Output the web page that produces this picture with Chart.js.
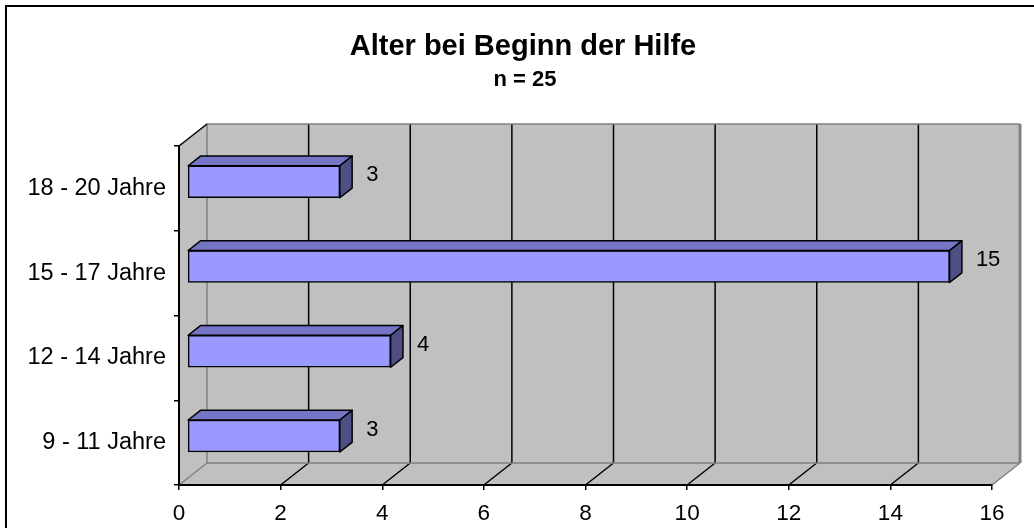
<!DOCTYPE html>
<html>
<head>
<meta charset="utf-8">
<script src="https://cdn.jsdelivr.net/npm/chart.js@4/dist/chart.umd.min.js"></script>
<style>
  html, body { margin: 0; padding: 0; background: #fff; }
  canvas { display: block; }
</style>
</head>
<body>
<canvas id="c" width="1034" height="528"></canvas>
<script>
// ---- data ----
const categories = ['18 - 20 Jahre', '15 - 17 Jahre', '12 - 14 Jahre', '9 - 11 Jahre'];
const values = [3, 15, 4, 3];
const xMin = 0, xMax = 16, xStep = 2;
const titleText = 'Alter bei Beginn der Hilfe';
const subtitleText = 'n = 25';

// ---- styling ----
const FONT = "'Liberation Sans', Arial, Helvetica, sans-serif";
const WX = 28, WY = -22;        // wall depth
const FX = 8.4, FY = -6.6;      // bar front face offset into depth
const DX = 12.3, DY = -9.7;     // bar depth
const WALL = '#c0c0c0', WALL_EDGE = '#808080';
const FRONT = '#9999ff', TOP = '#7575c6', SIDE = '#4f4f85';

const threeD = {
  id: 'threeD',
  beforeDraw(chart) {
    const { ctx, chartArea: a, scales: { x } } = chart;
    ctx.save();
    ctx.fillStyle = '#fff';
    ctx.fillRect(0, 0, chart.width, chart.height);
    // outer frame
    ctx.strokeStyle = '#000';
    ctx.lineWidth = 2;
    ctx.strokeRect(6, 6, chart.width + 100, chart.height + 100);

    const L = a.left, R = a.right, T = a.top, B = a.bottom;
    // back wall
    ctx.fillStyle = WALL;
    ctx.fillRect(L + WX, T + WY, R - L, B - T);
    // left wall
    ctx.beginPath();
    ctx.moveTo(L, T); ctx.lineTo(L + WX, T + WY); ctx.lineTo(L + WX, B + WY); ctx.lineTo(L, B);
    ctx.closePath(); ctx.fill();
    // floor
    ctx.beginPath();
    ctx.moveTo(L, B); ctx.lineTo(R, B); ctx.lineTo(R + WX, B + WY); ctx.lineTo(L + WX, B + WY);
    ctx.closePath(); ctx.fill();

    // gridlines on back wall and floor
    ctx.strokeStyle = '#000';
    ctx.lineWidth = 1.5;
    for (let v = xMin + xStep; v < xMax; v += xStep) {
      const px = x.getPixelForValue(v);
      ctx.beginPath();
      ctx.moveTo(px + WX, T + WY); ctx.lineTo(px + WX, B + WY); ctx.lineTo(px, B);
      ctx.stroke();
    }
    // wall edges
    ctx.strokeStyle = WALL_EDGE;
    ctx.lineWidth = 1.5;
    ctx.beginPath();
    ctx.moveTo(L + WX, B + WY); ctx.lineTo(L + WX, T + WY); ctx.lineTo(R + WX, T + WY);
    ctx.moveTo(L + WX, B + WY); ctx.lineTo(R + WX, B + WY);
    ctx.moveTo(L + WX, B + WY); ctx.lineTo(L, B);
    ctx.moveTo(R, B); ctx.lineTo(R + WX, B + WY);
    ctx.stroke();
    ctx.lineWidth = 3;
    ctx.beginPath();
    ctx.moveTo(R + WX, T + WY); ctx.lineTo(R + WX, B + WY);
    ctx.stroke();
    // left wall top edge
    ctx.strokeStyle = '#000';
    ctx.lineWidth = 1.5;
    ctx.beginPath();
    ctx.moveTo(L, T); ctx.lineTo(L + WX, T + WY);
    ctx.stroke();

    // title text
    ctx.fillStyle = '#000';
    ctx.textAlign = 'center';
    ctx.textBaseline = 'middle';
    ctx.font = 'bold 29px ' + FONT;
    ctx.fillText(titleText, 523, 47);
    ctx.font = 'bold 22px ' + FONT;
    ctx.fillText(subtitleText, 525, 80);
    ctx.restore();
  },
  beforeDatasetsDraw(chart) {
    chart.ctx.save();
    chart.ctx.translate(FX, FY);
  },
  afterDatasetsDraw(chart) {
    const ctx = chart.ctx;
    ctx.restore();
    const meta = chart.getDatasetMeta(0);
    ctx.save();
    ctx.lineWidth = 1.5;
    ctx.strokeStyle = '#000';
    ctx.lineJoin = 'round';
    meta.data.forEach((bar, i) => {
      const p = bar.getProps(['x', 'y', 'base', 'height'], true);
      const x0 = Math.min(p.base, p.x) + FX, x1 = Math.max(p.base, p.x) + FX;
      const yt = p.y - p.height / 2 + FY, yb = p.y + p.height / 2 + FY;
      // top face
      ctx.beginPath();
      ctx.moveTo(x0, yt); ctx.lineTo(x1, yt); ctx.lineTo(x1 + DX, yt + DY); ctx.lineTo(x0 + DX, yt + DY);
      ctx.closePath();
      ctx.fillStyle = TOP; ctx.fill(); ctx.stroke();
      // side face
      ctx.beginPath();
      ctx.moveTo(x1, yt); ctx.lineTo(x1 + DX, yt + DY); ctx.lineTo(x1 + DX, yb + DY); ctx.lineTo(x1, yb);
      ctx.closePath();
      ctx.fillStyle = SIDE; ctx.fill(); ctx.stroke();
      // value label
      ctx.fillStyle = '#000';
      ctx.font = '22px ' + FONT;
      ctx.textAlign = 'left';
      ctx.textBaseline = 'middle';
      ctx.fillText(String(values[i]), x1 + DX + 14, (yt + yb) / 2 - 6.5);
    });
    ctx.restore();
  }
};

new Chart(document.getElementById('c'), {
  type: 'bar',
  data: {
    labels: categories,
    datasets: [{
      data: values,
      backgroundColor: FRONT,
      borderColor: '#000',
      borderWidth: 1.5,
      borderSkipped: false,
      barThickness: 32,
      clip: false
    }]
  },
  options: {
    indexAxis: 'y',
    responsive: false,
    animation: false,
    devicePixelRatio: 1,
    layout: { padding: { left: 0, right: 42, top: 146, bottom: 0 } },
    plugins: {
      legend: { display: false },
      title: { display: false },
      tooltip: { enabled: false }
    },
    scales: {
      x: {
        type: 'linear',
        min: xMin, max: xMax,
        ticks: { stepSize: xStep, color: '#000', font: { family: FONT, size: 22.5 }, padding: 10 },
        grid: { drawOnChartArea: false, drawTicks: true, tickLength: 5, color: '#000', lineWidth: 1.5 },
        border: { color: '#000', width: 2 },
        afterFit(s) { s.height = 43; }
      },
      y: {
        type: 'category',
        ticks: { color: '#000', font: { family: FONT, size: 23.5 }, padding: 8 },
        grid: { offset: true, drawOnChartArea: false, drawTicks: true, tickLength: 5, color: '#000', lineWidth: 1.5 },
        border: { color: '#000', width: 2 },
        afterFit(s) { s.width = 179; }
      }
    }
  },
  plugins: [threeD]
});
</script>
</body>
</html>
